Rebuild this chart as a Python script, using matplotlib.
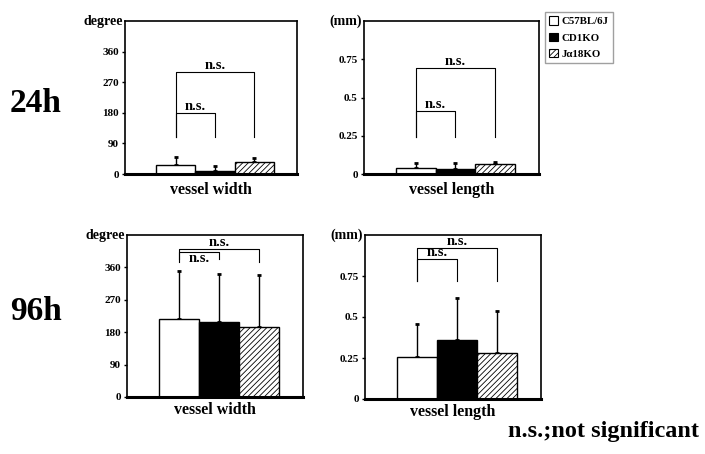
import matplotlib
matplotlib.use("Agg")
import matplotlib.pyplot as plt
from matplotlib.patches import Patch

plt.rcParams['font.family'] = ['Liberation Serif', 'DejaVu Serif']
plt.rcParams['font.weight'] = 'bold'
plt.rcParams['hatch.linewidth'] = 0.6

groups = ["C57BL/6J", "CD1KO", "J\u03b118KO"]
width_24h = [27, 9, 35]
width_24h_sd = [23, 15, 12]
length_24h = [0.04, 0.03, 0.065]
length_24h_sd = [0.03, 0.04, 0.015]
width_96h = [217, 209, 195]
width_96h_sd = [134, 134, 145]
length_96h = [0.256, 0.36, 0.28]
length_96h_sd = [0.20, 0.256, 0.257]

deg_ticks = [0, 90, 180, 270, 360]
mm_ticks = [0, 0.25, 0.5, 0.75]
mm_ticklabels = ["0", "0.25", "0.5", "0.75"]

# significance brackets: (x1, x2, top, bottom, label placement)
br_24w = [(0, 2, 301, 109, "bottom"), (0, 1, 180, 109, "bottom")]
br_24l = [(0, 2, 0.69, 0.245, "bottom"), (0, 1, 0.415, 0.245, "bottom")]
br_96w = [(0, 2, 412, 376, "bottom"), (0, 1, 404, 382, "top")]
br_96l = [(0, 2, 0.92, 0.72, "bottom"), (0, 1, 0.853, 0.72, "bottom")]

fig = plt.figure(figsize=(7.05, 4.54), dpi=100)
W, H = 705, 454

def make_ax(x0, x1, y0, y1):
    return fig.add_axes([x0 / W, (H - y1) / H, (x1 - x0) / W, (y1 - y0) / H])

ax1 = make_ax(125, 297, 21, 174)
ax2 = make_ax(364, 539, 21, 174)
ax3 = make_ax(127, 303, 235, 397)
ax4 = make_ax(365, 541, 235, 399)

colors = ["white", "black", "white"]
hatches = [None, None, "//////"]

def panel(ax, vals, sds, ylim, ticks, ticklabels, unit, xlabel, brackets, lpad):
    x = [0, 1, 2]
    for i in range(3):
        ax.bar(x[i], vals[i], width=1.0, color=colors[i], edgecolor="black",
               linewidth=1.0, hatch=hatches[i], zorder=2)
        ax.errorbar(x[i], vals[i], yerr=[[0], [sds[i]]], fmt="none",
                    ecolor="black", elinewidth=1.0, capsize=1.5, capthick=2, zorder=1)
    for (a, b, top, bot, va) in brackets:
        ax.plot([a, a, b, b], [bot, top, top, bot], color="black", lw=0.8, zorder=3)
        ax.text((a + b) / 2, top, "n.s.", ha="center", va=va,
                fontsize=10.5, fontweight="bold", zorder=4)
    ax.set_xlim(-1.29, 3.09)
    ax.set_ylim(*ylim)
    ax.set_xticks([])
    ax.set_yticks(ticks)
    ax.set_yticklabels(ticklabels, fontsize=8, fontweight="bold")
    ax.tick_params(axis="y", length=2.5, width=1, direction="out", pad=2)
    for s in ["top", "right", "left"]:
        ax.spines[s].set_linewidth(1.2)
    ax.spines["bottom"].set_linewidth(2.2)
    ax.text(-0.01, 1.0, unit, transform=ax.transAxes, ha="right", va="center",
            fontsize=10, fontweight="bold")
    ax.set_xlabel(xlabel, fontsize=11.5, fontweight="bold", labelpad=lpad)

panel(ax1, width_24h, width_24h_sd, (0, 450), deg_ticks, [str(t) for t in deg_ticks],
      "degree", "vessel width", br_24w, 6)
panel(ax2, length_24h, length_24h_sd, (0, 1.0), mm_ticks, mm_ticklabels,
      "(mm)", "vessel length", br_24l, 6)
panel(ax3, width_96h, width_96h_sd, (0, 450), deg_ticks, [str(t) for t in deg_ticks],
      "degree", "vessel width", br_96w, 3.5)
panel(ax4, length_96h, length_96h_sd, (0, 1.0), mm_ticks, mm_ticklabels,
      "(mm)", "vessel length", br_96l, 3.5)

handles = [Patch(facecolor="white", edgecolor="black", linewidth=0.8),
           Patch(facecolor="black", edgecolor="black", linewidth=0.8),
           Patch(facecolor="white", edgecolor="black", hatch="//////", linewidth=0.8)]
fig.legend(handles, groups, loc="upper left", bbox_to_anchor=(545 / W, 1 - 12 / H),
           fontsize=7.8, frameon=True, fancybox=False, edgecolor="#888888",
           handlelength=0.8, handleheight=0.8, handletextpad=0.3,
           borderpad=0.4, labelspacing=0.6, borderaxespad=0)

fig.text(36 / W, 1 - 103 / H, "24h", ha="center", va="center", fontsize=24, fontweight="bold")
fig.text(36 / W, 1 - 312 / H, "96h", ha="center", va="center", fontsize=24, fontweight="bold")
fig.text(603 / W, 1 - 432 / H, "n.s.;not significant", ha="center", va="center",
         fontsize=17.5, fontweight="bold")

fig.savefig("out.png", dpi=100)
